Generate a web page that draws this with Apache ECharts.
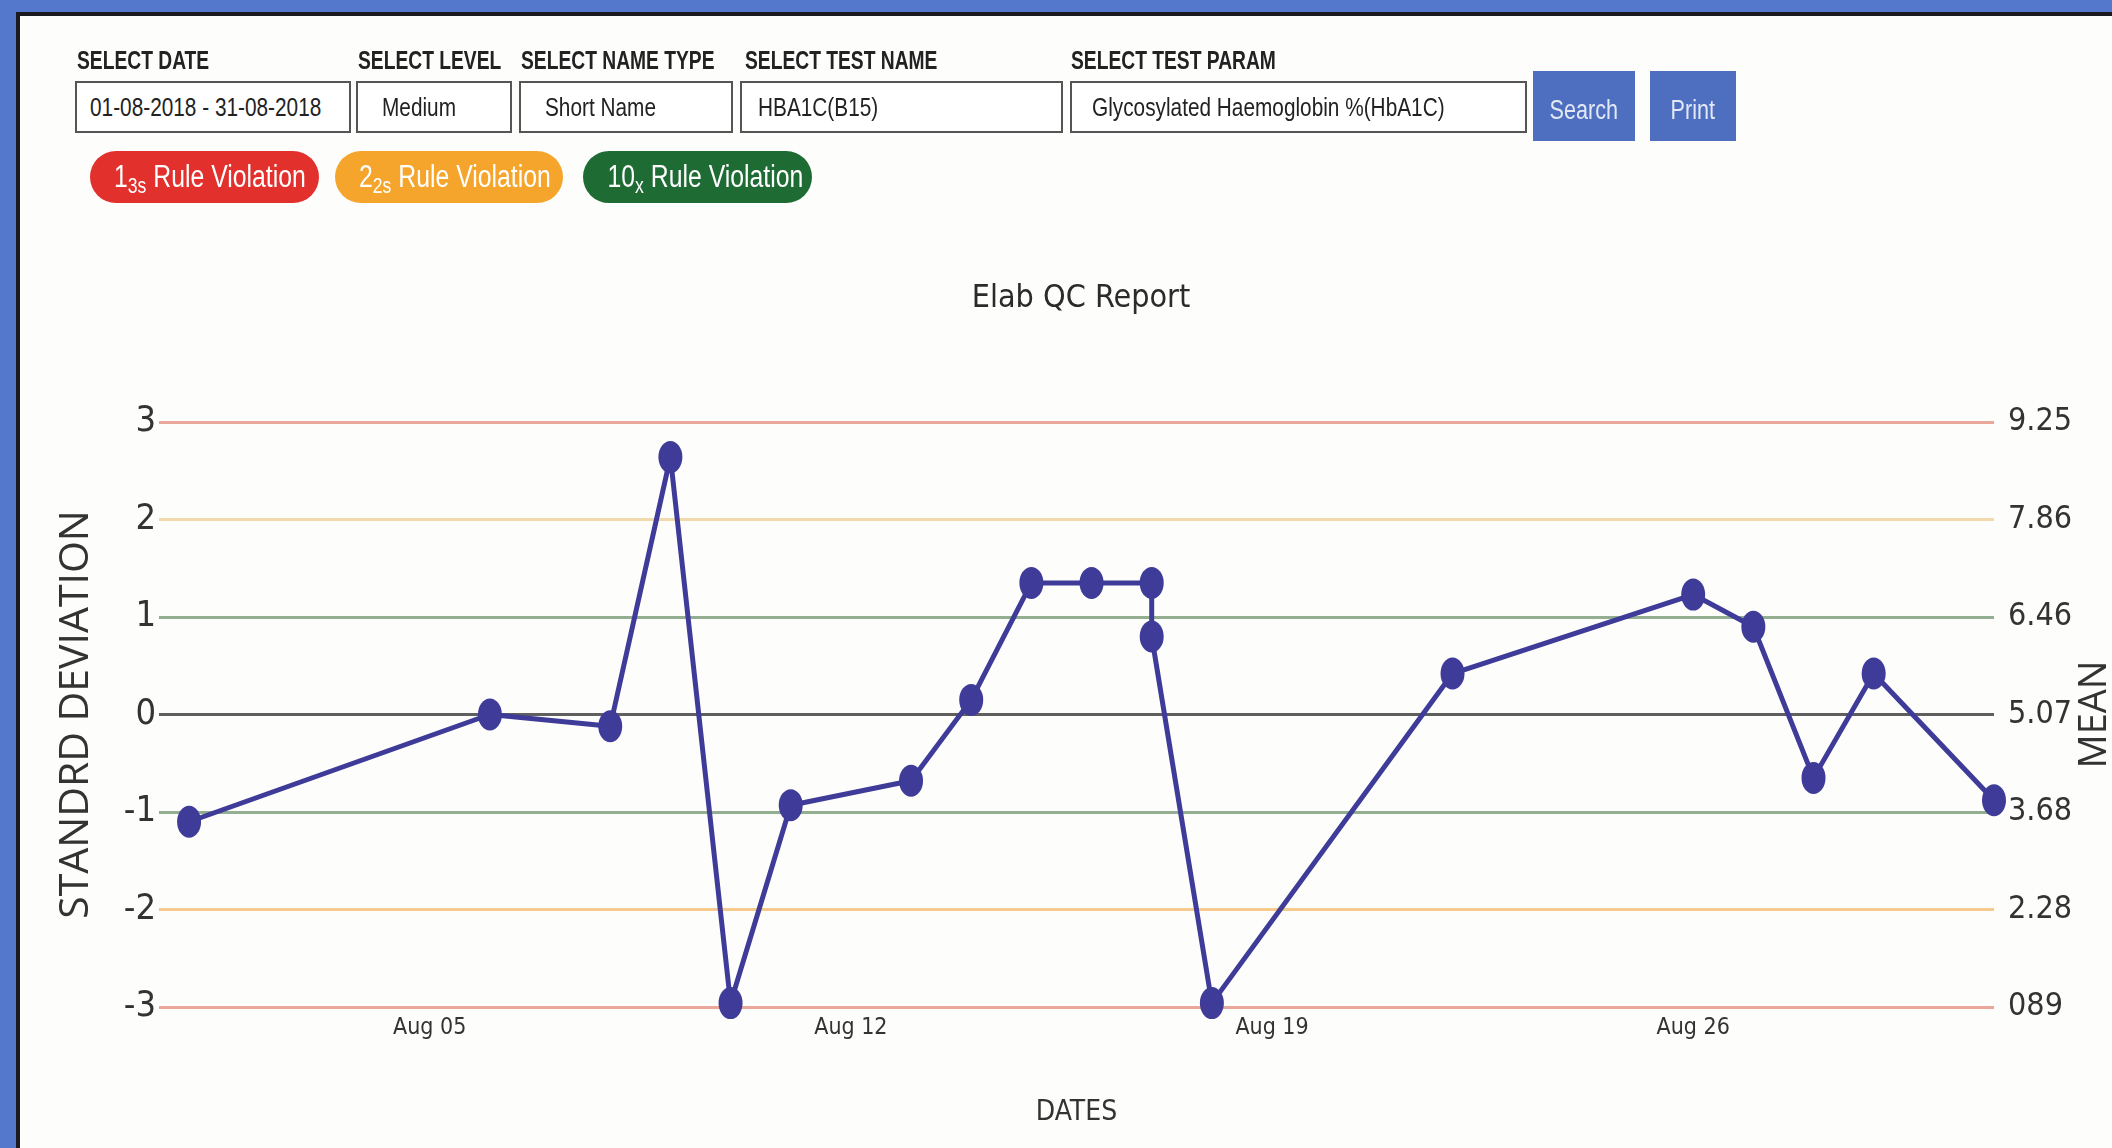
<!DOCTYPE html>
<html>
<head>
<meta charset="utf-8">
<title>Elab QC Report</title>
<script src="https://cdn.jsdelivr.net/npm/echarts@6/dist/echarts.min.js"></script>
<style>
  html, body { margin: 0; padding: 0; width: 2112px; height: 1148px; overflow: hidden; background: #5479cc; }
  #panel { position: absolute; left: 16px; top: 12px; right: 0; bottom: 0; background: #fdfdfc;
           border-left: 4px solid #1b1b1f; border-top: 4px solid #1b1b1f; }
  #chart { position: absolute; left: 0; top: 0; width: 2112px; height: 1148px; }
  .nar { font-family: "Liberation Sans", Arial, sans-serif; }
  .sq { display: inline-block; transform: scaleX(0.8); transform-origin: 0 50%; white-space: nowrap; }
  .lbl { position: absolute; top: 45px; font-size: 26px; font-weight: bold; color: #222; line-height: 30px; white-space: nowrap; }
  .lbl .sq { transform: scaleX(0.74); }
  .box { position: absolute; top: 81px; height: 48px; border: 2px solid #555; background: #fff; font-size: 26px; color: #222;
         line-height: 48px; white-space: nowrap; box-sizing: content-box; overflow: hidden; }
  .btn { position: absolute; top: 71px; height: 70px; background: #4e6fc0; color: #e3e8f5; font-size: 27px; line-height: 78px; text-align: center; }
  .btn .sq { transform-origin: 50% 50%; }
  .pill { position: absolute; top: 151px; height: 52px; border-radius: 26px; color: #fff; font-size: 31px; line-height: 52px; text-align: center; white-space: nowrap; }
  .pill .sq { transform: scaleX(0.8); transform-origin: 50% 50%; }
  .pill sub { font-size: 22px; vertical-align: -6px; line-height: 0; }
</style>
</head>
<body>
<div id="panel"></div>
<div id="chart"></div>

<div class="lbl nar" style="left:77px"><span class="sq">SELECT DATE</span></div>
<div class="lbl nar" style="left:358px"><span class="sq">SELECT LEVEL</span></div>
<div class="lbl nar" style="left:521px"><span class="sq">SELECT NAME TYPE</span></div>
<div class="lbl nar" style="left:745px"><span class="sq">SELECT TEST NAME</span></div>
<div class="lbl nar" style="left:1071px"><span class="sq">SELECT TEST PARAM</span></div>

<div class="box nar" style="left:75px;width:259px;padding-left:13px"><span class="sq">01-08-2018 - 31-08-2018</span></div>
<div class="box nar" style="left:356px;width:128px;padding-left:24px"><span class="sq">Medium</span></div>
<div class="box nar" style="left:519px;width:186px;padding-left:24px"><span class="sq">Short Name</span></div>
<div class="box nar" style="left:740px;width:303px;padding-left:16px"><span class="sq">HBA1C(B15)</span></div>
<div class="box nar" style="left:1070px;width:433px;padding-left:20px"><span class="sq">Glycosylated Haemoglobin %(HbA1C)</span></div>

<div class="btn nar" style="left:1533px;width:102px"><span class="sq">Search</span></div>
<div class="btn nar" style="left:1650px;width:86px"><span class="sq">Print</span></div>

<div class="pill nar" style="left:90px;width:229px;background:#e2302c"><span class="sq">1<sub>3s</sub> Rule Violation</span></div>
<div class="pill nar" style="left:335px;width:228px;background:#f5a52b"><span class="sq">2<sub>2s</sub> Rule Violation</span></div>
<div class="pill nar" style="left:583px;width:229px;background:#1e6b34"><span class="sq">10<sub>x</sub> Rule Violation</span></div>

<script>
// QC points: date + standard deviation
const dates = ['2018-08-01', '2018-08-06', '2018-08-08', '2018-08-09', '2018-08-10', '2018-08-11',
  '2018-08-13', '2018-08-14', '2018-08-15', '2018-08-16', '2018-08-17', '2018-08-17',
  '2018-08-18', '2018-08-22', '2018-08-26', '2018-08-27', '2018-08-28', '2018-08-29', '2018-08-31']
const sdValues = [-1.1, 0, -0.12, 2.64, -2.96, -0.93,
  -0.68, 0.15, 1.35, 1.35, 1.35, 0.8,
  -2.96, 0.42, 1.23, 0.9, -0.65, 0.42, -0.88]

// right axis labels, from -3 SD up to +3 SD
const meanLabels = ['089', '2.28', '3.68', '5.07', '6.46', '7.86', '9.25']
// colours of the SD lines, from -3 up to +3
const sdLineColors = ['#eaa89b', '#f6ca8c', '#93ae91', '#5f5f5f', '#93ae91', '#f0d9aa', '#eaa89b']

const tickDates = ['2018-08-05', '2018-08-12', '2018-08-19', '2018-08-26']
const tickLabels = ['Aug 05', 'Aug 12', 'Aug 19', 'Aug 26']

const NARROW = '"DejaVu Sans Condensed", "Liberation Sans", sans-serif'
const ts = s => +echarts.time.parse(s)
const tickTimes = tickDates.map(ts)

const chart = echarts.init(document.getElementById('chart'), null, { renderer: 'canvas' })

const option = {
  animation: false,
  title: {
    text: 'Elab QC Report',
    left: 1076,
    top: 278,
    textAlign: 'center',
    textStyle: { fontFamily: NARROW, fontSize: 32, fontWeight: 'normal', color: '#2b2b2b' }
  },
  grid: { left: 159, right: 118, top: 422, bottom: 141, outerBoundsMode: 'none', containLabel: false },
  xAxis: {
    type: 'value',
    min: ts('2018-07-31 12:00'),
    max: ts('2018-08-31'),
    axisLine: { show: false },
    axisTick: { show: false },
    splitLine: { show: false },
    axisLabel: {
      customValues: tickTimes,
      formatter: v => {
        const i = tickTimes.indexOf(v)
        return i >= 0 ? tickLabels[i] : ''
      },
      fontFamily: NARROW,
      fontSize: 23,
      color: '#333',
      margin: 10
    },
    name: 'DATES',
    nameLocation: 'middle',
    nameGap: 92,
    nameMoveOverlap: false,
    nameTextStyle: { fontFamily: NARROW, fontSize: 28, color: '#333' }
  },
  yAxis: [
    {
      type: 'value',
      position: 'left',
      min: -3,
      max: 3,
      interval: 1,
      axisLine: { show: false },
      axisTick: { show: false },
      axisLabel: { fontFamily: NARROW, fontSize: 36, color: '#333', margin: 3 },
      splitLine: { show: true, lineStyle: { color: sdLineColors, width: 3 } },
      name: 'STANDRD DEVIATION',
      nameLocation: 'middle',
      nameGap: 62,
      nameMoveOverlap: false,
      nameTextStyle: { fontFamily: '"Open Sans", sans-serif', fontSize: 41, color: '#333' }
    },
    {
      type: 'value',
      position: 'right',
      min: -3,
      max: 3,
      interval: 1,
      axisLine: { show: false },
      axisTick: { show: false },
      splitLine: { show: false },
      axisLabel: {
        fontFamily: NARROW,
        fontSize: 32,
        color: '#333',
        margin: 14,
        formatter: v => meanLabels[Math.round(v) + 3]
      },
      name: 'MEAN',
      nameLocation: 'middle',
      nameGap: 82,
      nameMoveOverlap: false,
      nameTextStyle: { fontFamily: '"Open Sans", sans-serif', fontSize: 38, color: '#333' }
    }
  ],
  series: [
    {
      type: 'line',
      data: dates.map((d, i) => [ts(d), sdValues[i]]),
      symbol: 'circle',
      symbolSize: [24, 32],
      lineStyle: { color: '#3e3c98', width: 5 },
      itemStyle: { color: '#3e3c98' }
    }
  ]
}

chart.setOption(option)
</script>
</body>
</html>
